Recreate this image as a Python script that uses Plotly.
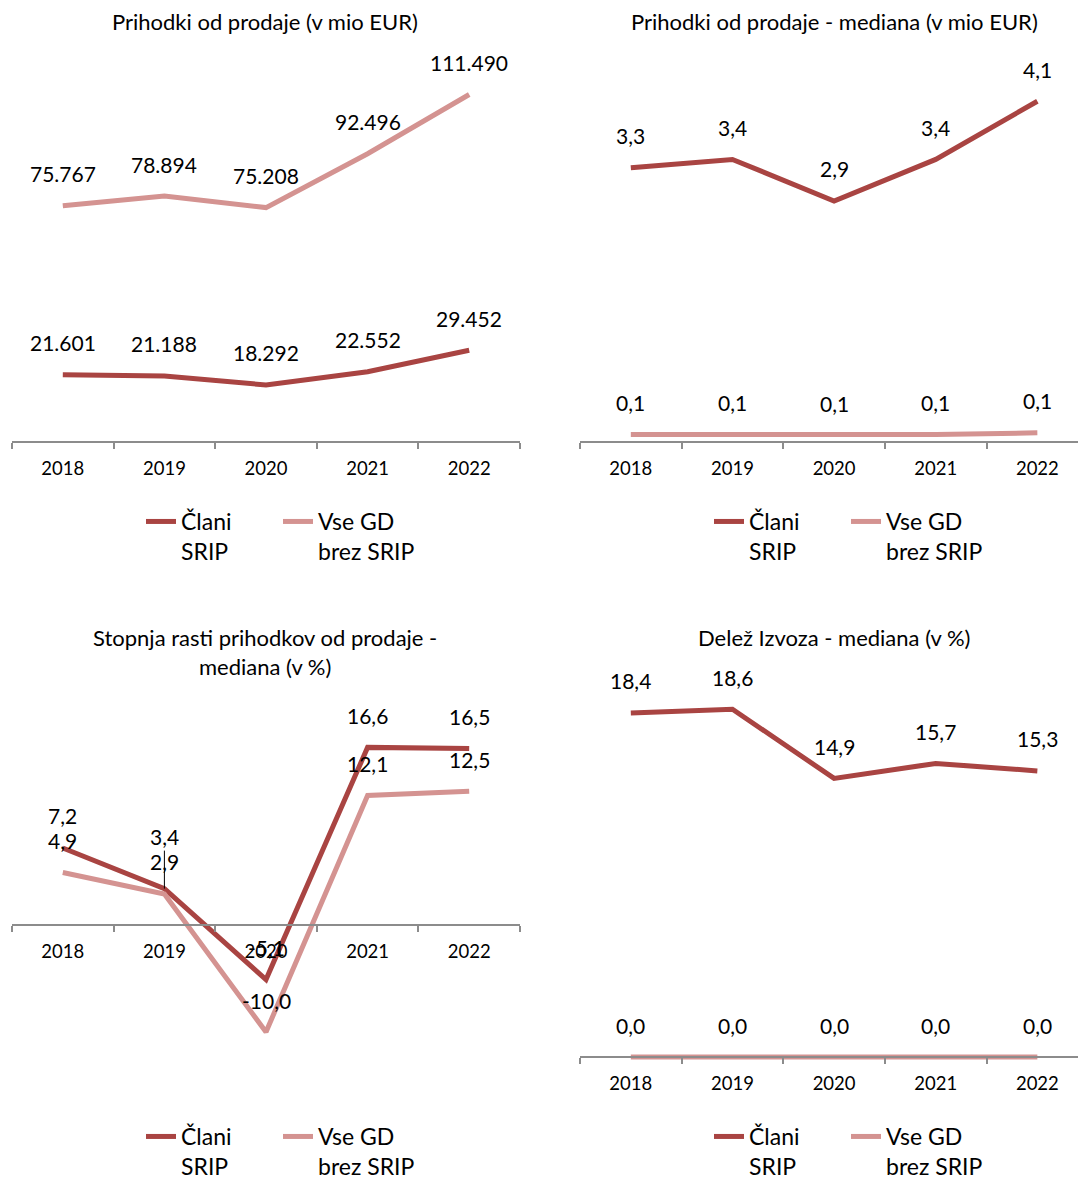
import plotly.graph_objects as go

# ---------------- data ----------------
years = ["2018", "2019", "2020", "2021", "2022"]
series_names = ["Člani<br>SRIP", "Vse GD<br>brez SRIP"]

prihodki_clani = [21601, 21188, 18292, 22552, 29452]
prihodki_vse = [75767, 78894, 75208, 92496, 111490]

mediana_clani = [3.3, 3.4, 2.9, 3.4, 4.1]
mediana_vse = [0.09, 0.09, 0.08, 0.09, 0.11]

rast_clani = [7.2, 3.4, -5.1, 16.6, 16.5]
rast_vse = [4.9, 2.9, -10.0, 12.1, 12.5]

izvoz_clani = [18.4, 18.6, 14.9, 15.7, 15.3]
izvoz_vse = [0.0, 0.0, 0.0, 0.0, 0.0]

titles = [
    "Prihodki od prodaje (v mio EUR)",
    "Prihodki od prodaje - mediana (v mio EUR)",
    "Stopnja rasti prihodkov od prodaje -<br>mediana (v %)",
    "Delež Izvoza - mediana (v %)",
]

# ---------------- style ----------------
W, H = 1078, 1178
FONT = "Lato"
C_DARK = "#A94442"
C_LIGHT = "#D49391"
AXIS_C = "#8C8C8C"


def fx(px):
    return px / W


def fy(py):
    return 1 - py / H


def fmt_thousands(v):
    return f"{v:,.0f}".replace(",", ".")


def fmt_dec(v):
    return f"{v:.1f}".replace(".", ",")


panels = [
    dict(clani=prihodki_clani, vse=prihodki_vse, fmt=fmt_thousands,
         xpx=(12, 520), xr=[-0.5, 4.5], yr=[-3000, 120000], top=68, zero=442,
         title_xy=(265, 22), leg_xy=(141, 500)),
    dict(clani=mediana_clani, vse=mediana_vse, fmt=fmt_dec,
         xpx=(580, 1078), xr=[-0.5, 4.4], yr=[-0.1, 4.5], top=68, zero=442,
         title_xy=(834, 22), leg_xy=(709, 500)),
    dict(clani=rast_clani, vse=rast_vse, fmt=fmt_dec,
         xpx=(12, 520), xr=[-0.5, 4.5], yr=[-15, 20], top=711, zero=925,
         title_xy=(265, 652), leg_xy=(141, 1115)),
    dict(clani=izvoz_clani, vse=izvoz_vse, fmt=fmt_dec,
         xpx=(580, 1078), xr=[-0.5, 4.4], yr=[-0.5, 20], top=683, zero=1057,
         title_xy=(834, 637), leg_xy=(709, 1115)),
]

fig = go.Figure()
annotations = []
layout = {}

for i, p in enumerate(panels):
    n = i + 1
    sfx = "" if n == 1 else str(n)
    xa, ya = "x" + sfx, "y" + sfx
    leg = "legend" + sfx
    ymin, ymax = p["yr"]
    pxu = (p["zero"] - p["top"]) / ymax
    bottom = p["zero"] + (0 - ymin) * pxu

    for vals, name, col in ((p["clani"], series_names[0], C_DARK),
                            (p["vse"], series_names[1], C_LIGHT)):
        fig.add_trace(go.Scatter(
            x=years, y=vals, mode="lines", name=name,
            line=dict(color=col, width=5),
            xaxis=xa, yaxis=ya, legend=leg, showlegend=True,
            hoverinfo="skip",
        ))
        for j, v in enumerate(vals):
            special = (n == 3 and j == 1 and vals is rast_clani)
            a = dict(x=j, y=v, xref=xa, yref=ya, text=p["fmt"](v),
                     font=dict(family=FONT, size=21, color="black"))
            if special:
                a.update(showarrow=True, ax=0, ay=-52, arrowhead=0,
                         arrowwidth=1, arrowcolor="black", standoff=0)
            else:
                a.update(showarrow=False, yshift=32)
            annotations.append(a)

    layout["xaxis" + sfx] = dict(
        type="category", domain=[fx(p["xpx"][0]), fx(p["xpx"][1])],
        range=p["xr"], anchor="free", position=fy(p["zero"]),
        showline=True, linecolor=AXIS_C, linewidth=1.5,
        ticks="outside", tickson="boundaries", ticklen=6,
        tickcolor=AXIS_C, tickwidth=1.5, showgrid=False, zeroline=False,
        tickfont=dict(family=FONT, size=18.5, color="black"),
        ticklabelstandoff=10, fixedrange=True,
    )
    layout["yaxis" + sfx] = dict(
        domain=[fy(bottom), fy(p["top"])], range=p["yr"], anchor=xa,
        visible=False, showgrid=False, zeroline=False, fixedrange=True,
    )
    layout[leg] = dict(
        orientation="h", x=fx(p["leg_xy"][0]), y=fy(p["leg_xy"][1]),
        xanchor="left", yanchor="top", valign="top",
        font=dict(family=FONT, size=23, color="black"),
        bgcolor="rgba(0,0,0,0)", entrywidth=92, itemwidth=30,
    )
    annotations.append(dict(
        x=fx(p["title_xy"][0]), y=fy(p["title_xy"][1]), xref="paper",
        yref="paper", text=titles[i], showarrow=False,
        xanchor="center", yanchor="middle",
        font=dict(family=FONT, size=22, color="black"),
    ))

fig.update_layout(
    width=W, height=H, autosize=False,
    margin=dict(l=0, r=0, t=0, b=0, autoexpand=False),
    paper_bgcolor="white", plot_bgcolor="white",
    font=dict(family=FONT, color="black"),
    annotations=annotations, **layout,
)

page_fix = (
    "document.documentElement.style.margin='0';"
    "document.documentElement.style.overflow='hidden';"
    "document.body.style.margin='0';"
    "document.body.style.overflow='hidden';"
)

fig.write_html("out.html", config={"displayModeBar": False},
               post_script=page_fix)
